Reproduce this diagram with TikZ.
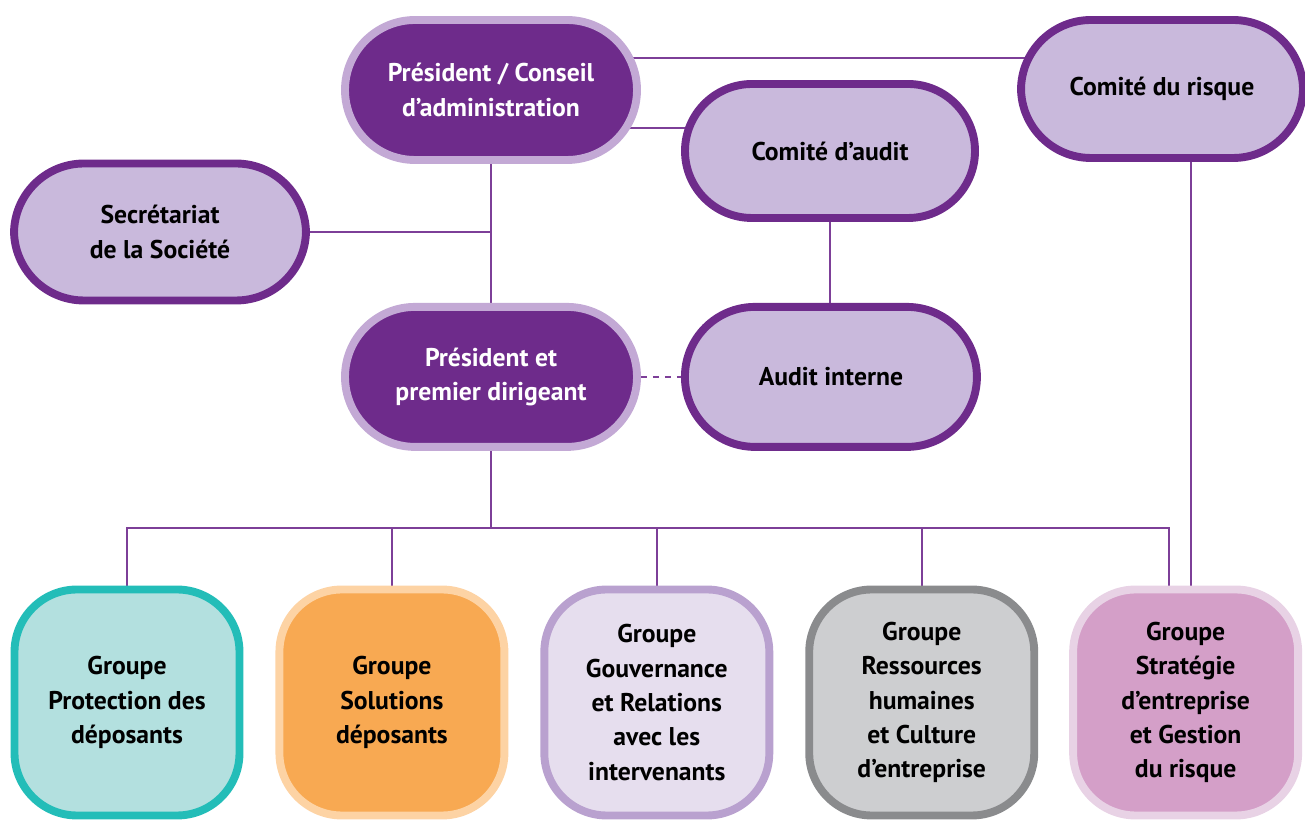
\documentclass[tikz,border=0pt]{standalone}
\usepackage{fontspec}
\setmainfont{PT Sans}
\usetikzlibrary{positioning}
\usetikzlibrary{backgrounds}

\definecolor{darkplum}{HTML}{6E2B8B}
\definecolor{paleplum}{HTML}{C3A9D5}
\definecolor{lilac}{HTML}{C9B9DC}
\definecolor{wire}{HTML}{7D3F98}
\definecolor{tealline}{HTML}{23BDB8}
\definecolor{tealfill}{HTML}{B3E0DF}
\definecolor{orangefill}{HTML}{F8A952}
\definecolor{orangeline}{HTML}{FDD3A4}
\definecolor{mistfill}{HTML}{E6DEEE}
\definecolor{mistline}{HTML}{B9A1CF}
\definecolor{greyfill}{HTML}{CDCED0}
\definecolor{greyline}{HTML}{8A8B8D}
\definecolor{rosefill}{HTML}{D49FC8}
\definecolor{roseline}{HTML}{E8D2E5}

\begin{document}
\begin{tikzpicture}[
board/.style={
	% The shape:
	rectangle,
	% The size:
	minimum width=5.84cm, minimum height=2.8cm,
	rounded corners=1.4cm,
	% The border:
	line width=4.5pt,
	draw=paleplum,
	% The filling:
	fill=darkplum,
	% Font
	text=white, align=center,
	font=\bfseries\fontsize{14.6}{19.5}\selectfont},
committee/.style={
	board,
	draw=darkplum, % dark edge,
	% and a pale inside
	fill=lilac, text=black},
unit/.style={
	% The shape:
	rectangle,
	minimum width=4.5cm, minimum height=4.52cm,
	rounded corners=1.25cm,
	% The rest
	line width=4.5pt,
	text=black, align=center,
	font=\bfseries\fontsize{14.6}{19.5}\selectfont},
link/.style={draw=wire, line width=1.1pt},
]
\useasboundingbox (0,0) rectangle (26.1,16.4);

\node (pca) [board] at (9.82,14.6) {Président / Conseil\\d’administration};
\node (audit) [committee, minimum width=5.8cm, minimum height=2.68cm, rounded corners=1.34cm] at (16.6,13.38) {Comité d’audit};
\node (risque) [committee, minimum width=5.64cm, minimum height=2.76cm] at (23.24,14.62) {Comité du risque};
\node (secr) [committee, minimum height=2.74cm] at (3.2,11.76) {Secrétariat\\de la Société};
\node (ppd) [board, below=2.78cm of pca] {Président et\\premier dirigeant};
\node (ai) [committee, right=0.8cm of ppd] {Audit interne};

\node (g1) [unit, draw=tealline, fill=tealfill] at (2.54,2.35) {Groupe\\Protection des\\déposants};
\node (g2) [unit, draw=orangeline, fill=orangefill, right=0.64cm of g1] {Groupe\\Solutions\\déposants};
\node (g3) [unit, draw=mistline, fill=mistfill, right=0.64cm of g2] {Groupe\\Gouvernance\\et Relations\\avec les\\intervenants};
\node (g4) [unit, draw=greyline, fill=greyfill, right=0.64cm of g3] {Groupe\\Ressources\\humaines\\et Culture\\d’entreprise};
\node (g5) [unit, draw=roseline, fill=rosefill, right=0.62cm of g4] {Groupe\\Stratégie\\d’entreprise\\et Gestion\\du risque};

\coordinate (bus) at (9.82,5.84);

\begin{scope}[on background layer]
\draw[link] ([yshift=0.64cm]pca.center) -- ([yshift=0.64cm]pca.center -| risque.center);
\draw[link] ([yshift=-0.76cm]pca.center) -- ([yshift=-0.76cm]pca.center -| audit.center);
\draw[link] (pca) -- (ppd);
\draw[link] (secr.center) -- (secr.center -| pca.center);
\draw[link] (audit) -- (audit |- ai.center);
\draw[link] (ppd.center) -- (bus);
\foreach \g in {g1,g2,g3,g4}
	\draw[link] (bus) -| (\g.center);
\draw[link] (bus) -| ([xshift=-0.34cm]g5.center);
\draw[link] ([xshift=0.58cm]risque.center) -- ([xshift=0.58cm]risque.center |- g5.center);
\end{scope}
\draw[link, dash pattern=on 3.4pt off 3.4pt] (ppd) -- (ai);
\end{tikzpicture}
\end{document}
